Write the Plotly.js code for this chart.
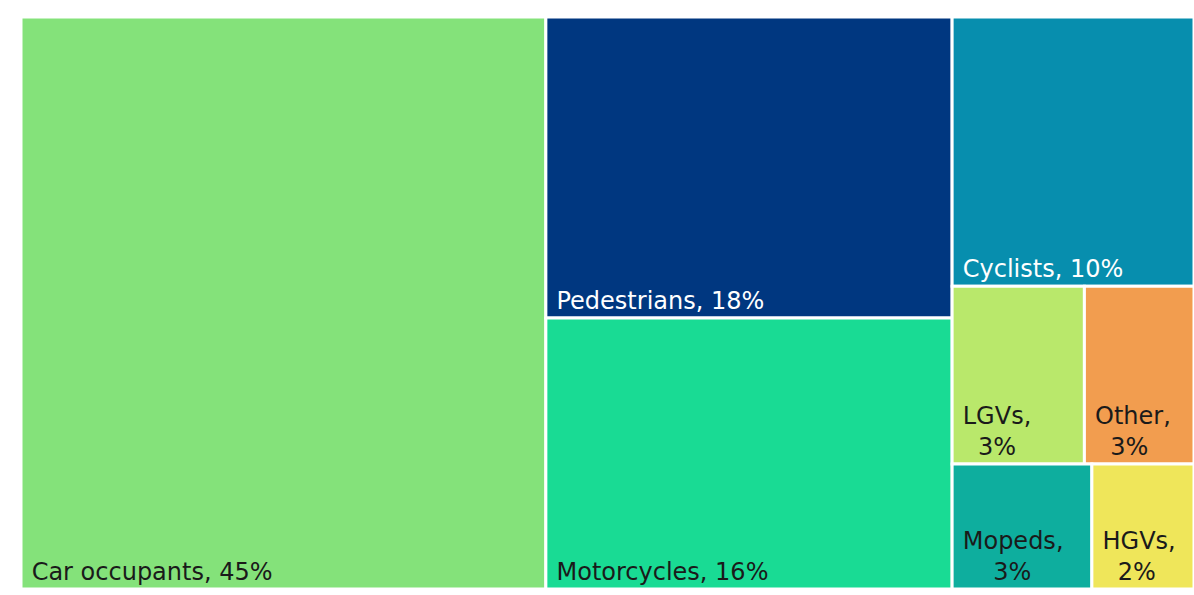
<!DOCTYPE html>
<html>
<head>
<meta charset="utf-8">
<script src="https://cdn.plot.ly/plotly-3.0.1.min.js"></script>
<style>html,body{margin:0;padding:0;background:#fff;}#chart{width:1194px;height:595px;}</style>
</head>
<body>
<div id="chart"></div>
<script>
const categories = ["Car occupants", "Pedestrians", "Motorcycles", "Cyclists", "LGVs", "Other", "Mopeds", "HGVs"];
const shares = [44.7, 18.2, 16.4, 9.7, 3.5, 2.9, 2.6, 1.9];
const shownPercent = ["45%", "18%", "16%", "10%", "3%", "3%", "3%", "2%"];
const wrapIndent = [0, 0, 0, 0, 2, 2, 4, 2];
const colors = ["#84e27a", "#003780", "#19db94", "#078eae", "#b9e86b", "#f29d4f", "#0eae9e", "#efe65a"];
const textColors = ["#1a1a1a", "#ffffff", "#1a1a1a", "#ffffff", "#1a1a1a", "#1a1a1a", "#1a1a1a", "#1a1a1a"];

const nb = n => "&nbsp;".repeat(n);
const texts = categories.map((c, i) => wrapIndent[i] > 0
  ? nb(1) + c + ",<br>" + nb(1 + wrapIndent[i]) + shownPercent[i]
  : nb(1) + c + ", " + shownPercent[i]);

Plotly.newPlot("chart", [{
  type: "treemap",
  labels: categories,
  parents: categories.map(() => ""),
  values: shares,
  text: texts,
  textinfo: "text",
  textposition: "bottom left",
  sort: true,
  marker: { colors: colors, line: { color: "#ffffff", width: 3 }, pad: { t: 0, l: 0, r: 0, b: 0 } },
  textfont: { family: "DejaVu Sans", size: 24, color: textColors },
  pathbar: { visible: false },
  tiling: { packing: "squarify", pad: 0 },
  hoverinfo: "none"
}], {
  width: 1194, height: 595,
  margin: { l: 21, r: 0, t: 17, b: 6, pad: 0 },
  paper_bgcolor: "#ffffff",
  showlegend: false
}, { displayModeBar: false, staticPlot: true });
</script>
</body>
</html>
